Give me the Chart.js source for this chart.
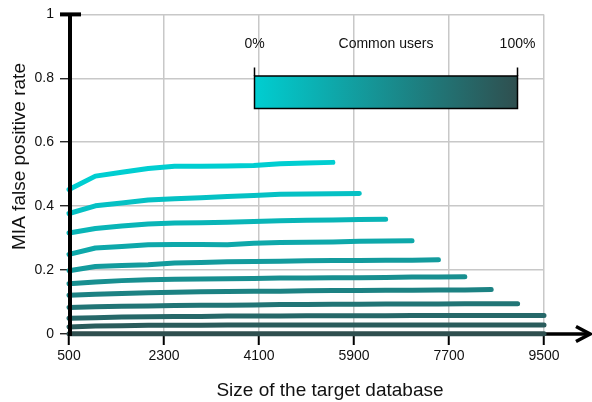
<!DOCTYPE html>
<html>
<head>
<meta charset="utf-8">
<script src="https://cdn.jsdelivr.net/npm/chart.js@4/dist/chart.umd.min.js"></script>
<style>
  html, body { margin: 0; padding: 0; background: #fff; }
  canvas { display: block; }
</style>
</head>
<body>
<canvas id="c" width="592" height="402"></canvas>
<script>
// Target database sizes (x) and axis ticks
const sizes = [500, 1000, 1500, 2000, 2500, 3000, 3500, 4000, 4500, 5000,
               5500, 6000, 6500, 7000, 7500, 8000, 8500, 9000, 9500];
const xTicks = [500, 2300, 4100, 5900, 7700, 9500];
const yTicks = [0, 0.2, 0.4, 0.6, 0.8, 1];

// Share of common users for each curve
const commonUsers = [0, 10, 20, 30, 40, 50, 60, 70, 80, 90, 100];

// MIA false positive rate per share of common users
const fpr0   = [0.452, 0.494, 0.506, 0.518, 0.525, 0.525, 0.526, 0.527, 0.533, 0.535, 0.537];
const fpr10  = [0.377, 0.401, 0.410, 0.419, 0.423, 0.426, 0.430, 0.433, 0.437, 0.438, 0.439, 0.440];
const fpr20  = [0.316, 0.330, 0.338, 0.344, 0.347, 0.348, 0.350, 0.352, 0.354, 0.356, 0.357, 0.358, 0.359];
const fpr30  = [0.249, 0.269, 0.274, 0.279, 0.280, 0.280, 0.279, 0.284, 0.286, 0.287, 0.288, 0.290, 0.291, 0.292];
const fpr40  = [0.198, 0.211, 0.214, 0.217, 0.222, 0.224, 0.226, 0.227, 0.228, 0.229, 0.230, 0.230, 0.231, 0.231, 0.232];
const fpr50  = [0.157, 0.163, 0.167, 0.170, 0.171, 0.172, 0.173, 0.174, 0.175, 0.175, 0.176, 0.176, 0.177, 0.178, 0.178, 0.179];
const fpr60  = [0.121, 0.124, 0.127, 0.129, 0.131, 0.132, 0.133, 0.134, 0.134, 0.135, 0.136, 0.136, 0.137, 0.137, 0.138, 0.138, 0.139];
const fpr70  = [0.083, 0.085, 0.087, 0.088, 0.089, 0.090, 0.090, 0.091, 0.092, 0.092, 0.093, 0.093, 0.094, 0.094, 0.094, 0.095, 0.095, 0.095];
const fpr80  = [0.049, 0.051, 0.053, 0.054, 0.055, 0.055, 0.056, 0.056, 0.056, 0.057, 0.057, 0.057, 0.057, 0.058, 0.058, 0.058, 0.058, 0.058, 0.058];
const fpr90  = [0.022, 0.025, 0.026, 0.027, 0.027, 0.027, 0.028, 0.028, 0.028, 0.028, 0.028, 0.028, 0.028, 0.028, 0.028, 0.028, 0.028, 0.028, 0.028];
const fpr100 = [0.001, 0.001, 0.001, 0.001, 0.001, 0.001, 0.001, 0.001, 0.001, 0.001, 0.001, 0.001, 0.001, 0.001, 0.001, 0.001, 0.001, 0.001, 0.001];

const allSeries = [fpr0, fpr10, fpr20, fpr30, fpr40, fpr50, fpr60, fpr70, fpr80, fpr90, fpr100];

const FONT = '"Liberation Sans", Arial, sans-serif';
const TEXT = '#111';
const LOW = [0, 206, 209];    // 0% common users
const HIGH = [47, 79, 79];    // 100% common users

function shade(p) {
  const c = LOW.map((v, k) => Math.round(v + (HIGH[k] - v) * p));
  return `rgb(${c[0]},${c[1]},${c[2]})`;
}

const datasets = allSeries.map((vals, i) => ({
  label: commonUsers[i] + '%',
  data: vals.map((y, j) => ({ x: sizes[j], y })),
  borderColor: shade(commonUsers[i] / 100),
  borderWidth: 5,
  borderCapStyle: 'round',
  borderJoinStyle: 'round',
  pointRadius: 0,
  tension: 0,
  fill: false,
  clip: 6
}));

// Heavy axes with arrow, axis titles and the colour bar legend
const decor = {
  id: 'decor',
  beforeDatasetsDraw(chart) {
    const { ctx, chartArea: a } = chart;
    ctx.save();
    ctx.strokeStyle = '#000';
    ctx.lineWidth = 3.5;
    ctx.lineCap = 'butt';
    ctx.beginPath();
    ctx.moveTo(a.left, a.bottom);
    ctx.lineTo(a.right + 46, a.bottom);
    ctx.stroke();
    ctx.lineJoin = 'miter';
    ctx.beginPath();
    ctx.moveTo(a.right + 32, a.bottom - 7.5);
    ctx.lineTo(a.right + 46, a.bottom);
    ctx.lineTo(a.right + 32, a.bottom + 7.5);
    ctx.stroke();
    ctx.restore();
  },
  afterDatasetsDraw(chart) {
    const { ctx, chartArea: a } = chart;
    ctx.save();
    ctx.strokeStyle = '#000';
    ctx.lineWidth = 4;
    ctx.beginPath();
    ctx.moveTo(a.left + 1, a.top);
    ctx.lineTo(a.left + 1, a.bottom + 2);
    ctx.stroke();
    ctx.beginPath();
    ctx.moveTo(a.left - 9, a.top);
    ctx.lineTo(a.left + 12, a.top);
    ctx.stroke();
    ctx.restore();
  },
  afterDraw(chart) {
    const { ctx } = chart;
    ctx.save();
    // colour bar
    const x0 = 254.5, x1 = 517.5, y0 = 76, y1 = 108.5;
    const g = ctx.createLinearGradient(x0, 0, x1, 0);
    g.addColorStop(0, shade(0));
    g.addColorStop(1, shade(1));
    ctx.fillStyle = g;
    ctx.fillRect(x0, y0, x1 - x0, y1 - y0);
    ctx.strokeStyle = '#000';
    ctx.lineWidth = 1.5;
    ctx.strokeRect(x0, y0, x1 - x0, y1 - y0);
    ctx.beginPath();
    ctx.moveTo(x0, y0); ctx.lineTo(x0, y0 - 8.5);
    ctx.moveTo(x1, y0); ctx.lineTo(x1, y0 - 8.5);
    ctx.stroke();
    ctx.fillStyle = TEXT;
    ctx.font = '14px ' + FONT;
    ctx.textAlign = 'center';
    ctx.textBaseline = 'middle';
    ctx.fillText(commonUsers[0] + '%', x0, 44);
    ctx.fillText('Common users', (x0 + x1) / 2, 44);
    ctx.fillText(commonUsers[commonUsers.length - 1] + '%', x1, 44);
    // axis titles
    ctx.font = '19px ' + FONT;
    ctx.textBaseline = 'alphabetic';
    ctx.fillText('Size of the target database', 330, 396);
    ctx.translate(25, 156.5);
    ctx.rotate(-Math.PI / 2);
    ctx.fillText('MIA false positive rate', 0, 0);
    ctx.restore();
  }
};

new Chart(document.getElementById('c'), {
  type: 'line',
  data: { datasets },
  plugins: [decor],
  options: {
    responsive: false,
    animation: false,
    devicePixelRatio: 1,
    layout: { padding: { top: 12, right: 48, left: 0, bottom: 0 } },
    plugins: { legend: { display: false }, tooltip: { enabled: false } },
    scales: {
      x: {
        type: 'linear',
        min: 500, max: 9500,
        afterFit: s => { s.height = 68; },
        afterBuildTicks: s => { s.ticks = xTicks.map(v => ({ value: v })); },
        border: { display: false },
        grid: { color: '#c8c8c8', lineWidth: 1.5, tickColor: '#000', tickWidth: 2, tickLength: 11 },
        ticks: { color: TEXT, font: { family: FONT, size: 14 }, padding: 3, maxRotation: 0,
                 callback: v => String(v) }
      },
      y: {
        min: 0, max: 1,
        afterFit: s => { s.width = 69; },
        afterBuildTicks: s => { s.ticks = yTicks.map(v => ({ value: v })); },
        border: { display: false },
        grid: { color: '#c8c8c8', lineWidth: 1.5, tickColor: '#000', tickWidth: 1.2, tickLength: 9 },
        ticks: { color: TEXT, font: { family: FONT, size: 14 }, padding: 6,
                 callback: v => String(v) }
      }
    }
  }
});
</script>
</body>
</html>
